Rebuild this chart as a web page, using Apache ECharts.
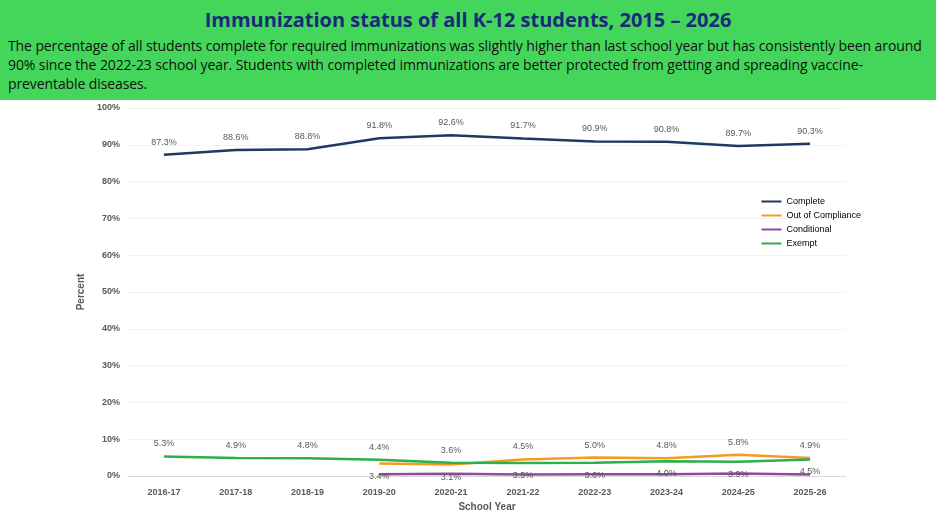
<!DOCTYPE html>
<html><head><meta charset="utf-8">
<script src="https://cdn.jsdelivr.net/npm/echarts@6/dist/echarts.min.js"></script>
<style>
body{margin:0;width:936px;height:518px;overflow:hidden;font-family:"Open Sans",Arial,sans-serif;background:#fff}
#head{background:#44d65a;height:100px;padding:0 8px;box-sizing:border-box}
#head h1{margin:0;padding-top:6px;text-align:center;color:#1a2a7a;font-size:20px;font-weight:bold}
#head p{margin:3px 0 0 0;font-size:14px;line-height:19px;color:#111;letter-spacing:-0.1px}
#chart{position:absolute;left:0;top:100px;width:936px;height:418px}
</style></head><body>
<div id="head"><h1>Immunization status of all K-12 students, 2015 – 2026</h1>
<p>The percentage of all students complete for required immunizations was slightly higher than last school year but has consistently been around 90% since the 2022-23 school year. Students with completed immunizations are better protected from getting and spreading vaccine-preventable diseases.</p></div>
<div id="chart"></div>
<script>
var years = ["2016-17","2017-18","2018-19","2019-20","2020-21","2021-22","2022-23","2023-24","2024-25","2025-26"];
var complete = [87.3,88.6,88.8,91.8,92.6,91.7,90.9,90.8,89.7,90.3];
var outOfCompliance = [null,null,null,3.4,3.1,4.5,5.0,4.8,5.8,4.9];
var conditional = [null,null,null,0.5,0.6,0.4,0.5,0.5,0.7,0.4];
var exempt = [5.3,4.9,4.8,4.4,3.6,3.5,3.6,4.0,3.9,4.5];
var outLabelPos = ["top","top","top","bottom","bottom","top","top","top","top","top"];
var exemptLabelPos = ["top","top","top","top","top","bottom","bottom","bottom","bottom","bottom"];

function withPos(vals, pos, dist) {
  return vals.map(function (v, i) {
    return v == null ? null : { value: v, label: { show: true, position: pos[i], distance: dist } };
  });
}
var lbl = { show: true, color: "#595959", fontSize: 9, formatter: function (p) { return p.value.toFixed(1) + "%"; } };
var sym = { symbol: "circle", symbolSize: 0.1, showSymbol: true };

var chart = echarts.init(document.getElementById("chart"));
chart.setOption({
  animation: false,
  grid: { left: 128, right: 90, top: 8, bottom: 42 },
  legend: {
    orient: "vertical", right: 70, top: 92, itemGap: 5, itemWidth: 20, itemHeight: 2,
    icon: "rect", textStyle: { fontSize: 9, color: "#000" },
    data: ["Complete","Out of Compliance","Conditional","Exempt"]
  },
  xAxis: {
    type: "category", data: years, boundaryGap: true, name: "School Year", nameLocation: "middle", nameGap: 26,
    nameTextStyle: { color: "#595959", fontSize: 10, fontWeight: "bold" },
    axisLine: { lineStyle: { color: "#d9d9d9" } }, axisTick: { show: false },
    axisLabel: { color: "#595959", fontSize: 9, fontWeight: "bold", margin: 12 }
  },
  yAxis: {
    type: "value", min: 0, max: 100, interval: 10, name: "Percent", nameLocation: "middle", nameGap: 36,
    nameTextStyle: { color: "#595959", fontSize: 10, fontWeight: "bold" },
    axisLabel: { formatter: "{value}%", color: "#595959", fontSize: 9, fontWeight: "bold" },
    splitLine: { lineStyle: { color: "#f2f2f2" } }
  },
  series: [
    Object.assign({ name: "Complete", type: "line", data: complete, color: "#1f3864", lineStyle: { width: 2.5 },
      label: Object.assign({ position: "top", distance: 8 }, lbl) }, sym),
    Object.assign({ name: "Out of Compliance", type: "line", data: withPos(outOfCompliance, outLabelPos, 8), color: "#f59a23", lineStyle: { width: 2.5 }, label: lbl }, sym),
    { name: "Conditional", type: "line", data: conditional, symbol: "none", color: "#8e4a9c", lineStyle: { width: 2.5 } },
    Object.assign({ name: "Exempt", type: "line", data: withPos(exempt, exemptLabelPos, 8), color: "#2bb04a", lineStyle: { width: 2.5 }, label: lbl }, sym)
  ]
});
</script></body></html>
